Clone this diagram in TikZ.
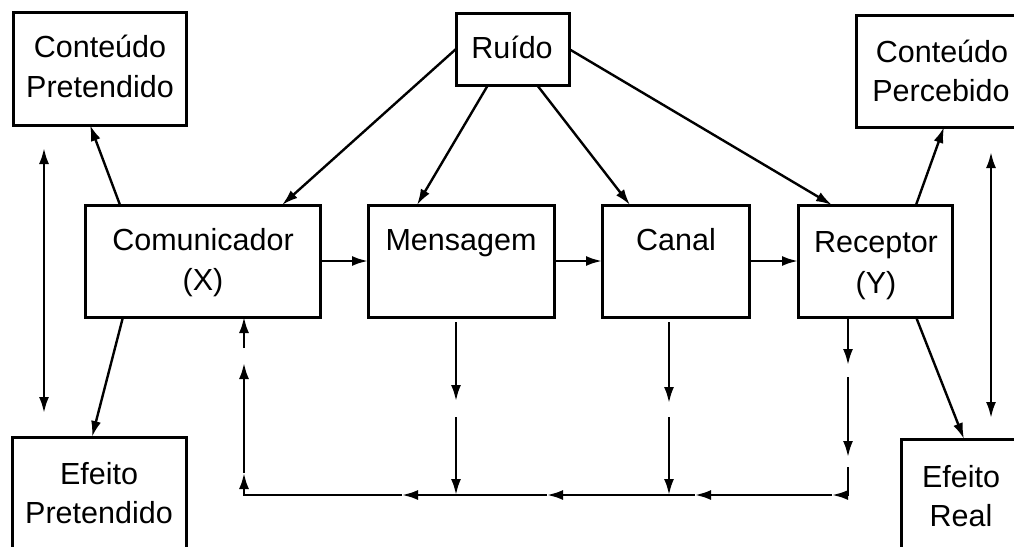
\documentclass[tikz,border=0pt]{standalone}
\usepackage{fontspec}
\setmainfont{Liberation Sans}
\usetikzlibrary{arrows.meta}
\begin{document}
\begin{tikzpicture}[x=1pt,y=-1pt,
  box/.style={draw, line width=3pt, inner sep=0pt, outer sep=0pt, anchor=north west},
  lbl/.style={anchor=base, inner sep=0pt, font=\fontsize{30.5}{40}\selectfont},
  arr/.style={line width=2.4pt, line join=miter, -{Latex[length=16pt,width=10pt]}},
  dbl/.style={line width=2.4pt, {Latex[length=16pt,width=10pt]}-{Latex[length=16pt,width=10pt]}}]
\useasboundingbox (0,0) rectangle (1014,546);
\clip (0,0) rectangle (1014,546);

% boxes
\node[box, minimum width=173pt, minimum height=113pt] (cpr) at (13,12) {};
\node[box, minimum width=113pt, minimum height=72pt] (ruido) at (456,13) {};
\node[box, minimum width=170pt, minimum height=112pt] (cpe) at (856,15) {};
\node[box, minimum width=235pt, minimum height=112pt] (com) at (85,205) {};
\node[box, minimum width=186pt, minimum height=112pt] (men) at (368,205) {};
\node[box, minimum width=147pt, minimum height=112pt] (can) at (602,205) {};
\node[box, minimum width=154pt, minimum height=112pt] (rec) at (798,205) {};
\node[box, minimum width=174pt, minimum height=140pt] (epr) at (12,437) {};
\node[box, minimum width=120pt, minimum height=140pt] (ere) at (901,439) {};

% labels
\node[lbl] (tcpr1) at (100,57) {Conteúdo};
\node[lbl] (tcpr2) at (100,97) {Pretendido};
\node[lbl] (truido) at (512,58) {Ruído};
\node[lbl] (tcpe1) at (942,62) {Conteúdo};
\node[lbl] (tcpe2) at (941,101) {Percebido};
\node[lbl] (tcom1) at (203,250) {Comunicador};
\node[lbl] (tcom2) at (203,290) {(X)};
\node[lbl] (tmen) at (461,250) {Mensagem};
\node[lbl] (tcan) at (676,250) {Canal};
\node[lbl] (trec1) at (876,252) {Receptor};
\node[lbl] (trec2) at (876,293) {(Y)};
\node[lbl] (tepr1) at (99,484) {Efeito};
\node[lbl] (tepr2) at (99,523) {Pretendido};
\node[lbl] (tere1) at (961,487) {Efeito};
\node[lbl] (tere2) at (961,526) {Real};

% main chain
\draw[arr] (com.east) -- (men.west);
\draw[arr] (men.east) -- (can.west);
\draw[arr] (can.east) -- (rec.west);

% noise
\draw[arr] (ruido.west) -- ([xshift=197pt]com.north west);
\draw[arr] ([xshift=32pt]ruido.south west) -- ([xshift=49pt]men.north west);
\draw[arr] ([xshift=81pt]ruido.south west) -- ([xshift=28pt]can.north west);
\draw[arr] (ruido.east) -- ([xshift=34pt]rec.north west);

% intended / perceived
\draw[arr] ([xshift=35pt]com.north west) -- ([xshift=77pt]cpr.south west);
\draw[arr] ([xshift=38pt]com.south west) -- ([xshift=80pt]epr.north west);
\draw[arr] ([xshift=118pt]rec.north west) -- ([xshift=88pt]cpe.south west);
\draw[arr] ([xshift=118pt]rec.south west) -- ([xshift=63pt]ere.north west);

% double arrows
\coordinate (l1) at (44,148);
\coordinate (l2) at (44,413);
\coordinate (r1d) at (991,152);
\coordinate (r2d) at (991,418);
\draw[dbl] (l1) -- (l2);
\draw[dbl] (r1d) -- (r2d);

% feedback
\coordinate (m1) at (456,401);
\coordinate (m2) at (456,417);
\coordinate (m3) at (456,495);
\coordinate (c1) at (669,403);
\coordinate (c2) at (669,417);
\coordinate (c3) at (669,495);
\coordinate (r1) at (848,365);
\coordinate (r2) at (848,377);
\coordinate (r3) at (848,457);
\coordinate (r4) at (848,467);
\coordinate (r5) at (848,495);
\coordinate (h1) at (832,495);
\coordinate (h2) at (695,495);
\coordinate (h3) at (547,495);
\coordinate (h4) at (402,495);
\coordinate (l0) at (244,495);
\coordinate (v1) at (244,473);
\coordinate (v2) at (244,363);
\coordinate (v3) at (244,348);

\draw[arr] ([xshift=88pt,yshift=-5pt]men.south west) -- (m1);
\draw[arr] (m2) -- (m3);
\draw[arr] ([xshift=67pt,yshift=-5pt]can.south west) -- (c1);
\draw[arr] (c2) -- (c3);
\draw[arr] ([xshift=50pt]rec.south west) -- (r1);
\draw[arr] (r2) -- (r3);
\draw[arr] (r4) -- (r5) -- (h1);
\draw[arr] (h1) -- (h2);
\draw[arr] (h2) -- (h3);
\draw[arr] (h3) -- (h4);
\draw[arr] (h4) -- (l0) -- (v1);
\draw[arr] (v1) -- (v2);
\draw[arr] (v3) -- ([xshift=159pt]com.south west);
\end{tikzpicture}
\end{document}
